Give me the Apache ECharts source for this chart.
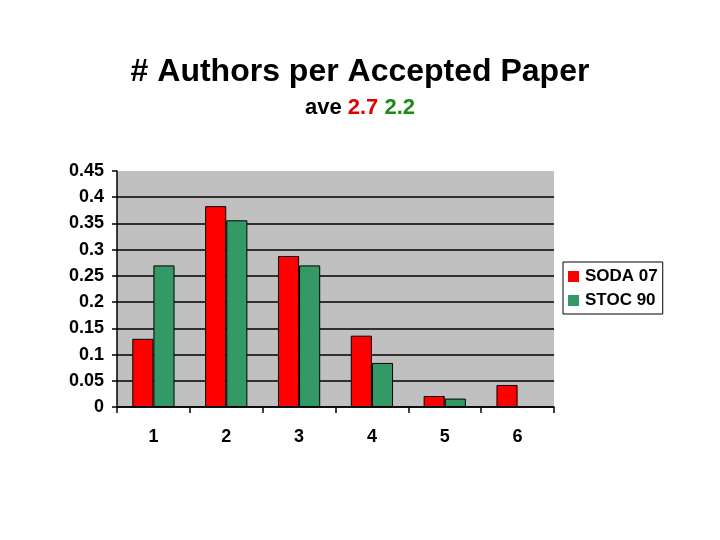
<!DOCTYPE html>
<html>
<head>
    <meta charset="utf-8">
    <title># Authors per Accepted Paper</title>
    <script src="https://cdn.jsdelivr.net/npm/echarts@6/dist/echarts.min.js"></script>
    <style>
        html, body { margin: 0; padding: 0; background: #fff; }
        #chart { width: 720px; height: 540px; }
    </style>
</head>
<body>
    <div id="chart"></div>
    <script>
        // number of authors
        var categories = ['1', '2', '3', '4', '5', '6'];
        // fraction of accepted papers
        var soda07 = [0.13, 0.383, 0.288, 0.136, 0.021, 0.042];
        var stoc90 = [0.27, 0.356, 0.27, 0.084, 0.016, null];
        var seriesNames = ['SODA 07', 'STOC 90'];
        var aveValues = ['2.7', '2.2'];

        var font = 'Arial, "Liberation Sans", sans-serif';
        var chart = echarts.init(document.getElementById('chart'));

        var option = {
            backgroundColor: '#fff',
            title: [{
                text: '# Authors per Accepted Paper',
                left: 'center',
                top: 51,
                textStyle: { fontFamily: font, fontSize: 32, fontWeight: 'bold', color: '#000' }
            }, {
                text: 'ave {r|' + aveValues[0] + '} {g|' + aveValues[1] + '}',
                left: 'center',
                top: 92,
                textStyle: {
                    fontFamily: font, fontSize: 22, fontWeight: 'bold', color: '#000',
                    rich: {
                        r: { fontFamily: font, fontSize: 22, fontWeight: 'bold', color: '#e00000' },
                        g: { fontFamily: font, fontSize: 22, fontWeight: 'bold', color: '#1a8a1a' }
                    }
                }
            }],
            legend: {
                orient: 'vertical',
                left: 563,
                top: 262,
                padding: [6, 5, 5, 5],
                itemGap: 7,
                itemWidth: 11,
                itemHeight: 11,
                icon: 'rect',
                borderColor: '#000',
                borderWidth: 1,
                itemStyle: { borderWidth: 0 },
                textStyle: { fontFamily: font, fontSize: 17, fontWeight: 'bold', color: '#000', padding: [0, 0, 0, 1] },
                data: seriesNames
            },
            grid: {
                left: 117,
                top: 171,
                width: 437,
                height: 236,
                show: true,
                backgroundColor: '#c0c0c0',
                borderWidth: 0
            },
            xAxis: {
                type: 'category',
                data: categories,
                axisLine: { lineStyle: { color: '#000', width: 1.5 } },
                axisTick: { show: true, alignWithLabel: false, length: 6, lineStyle: { color: '#000', width: 1.5 } },
                axisLabel: { fontFamily: font, fontSize: 18, fontWeight: 'bold', color: '#000', margin: 21 }
            },
            yAxis: {
                type: 'value',
                min: 0,
                max: 0.45,
                interval: 0.05,
                axisLine: { show: true, lineStyle: { color: '#000', width: 1.5 } },
                axisTick: { show: true, length: 5, lineStyle: { color: '#000', width: 1.5 } },
                splitLine: { showMaxLine: false, lineStyle: { color: '#000', width: 1.5 } },
                axisLabel: {
                    fontFamily: font, fontSize: 18, fontWeight: 'bold', color: '#000', margin: 13,
                    formatter: function (v) { return String(Math.round(v * 100) / 100); }
                }
            },
            series: [{
                name: seriesNames[0],
                type: 'bar',
                data: soda07,
                barGap: '0%',
                barCategoryGap: '42%',
                itemStyle: { color: '#ff0000', borderColor: '#000', borderWidth: 1 }
            }, {
                name: seriesNames[1],
                type: 'bar',
                data: stoc90,
                itemStyle: { color: '#339966', borderColor: '#000', borderWidth: 1 }
            }]
        };
        chart.setOption(option);
    </script>
</body>
</html>
